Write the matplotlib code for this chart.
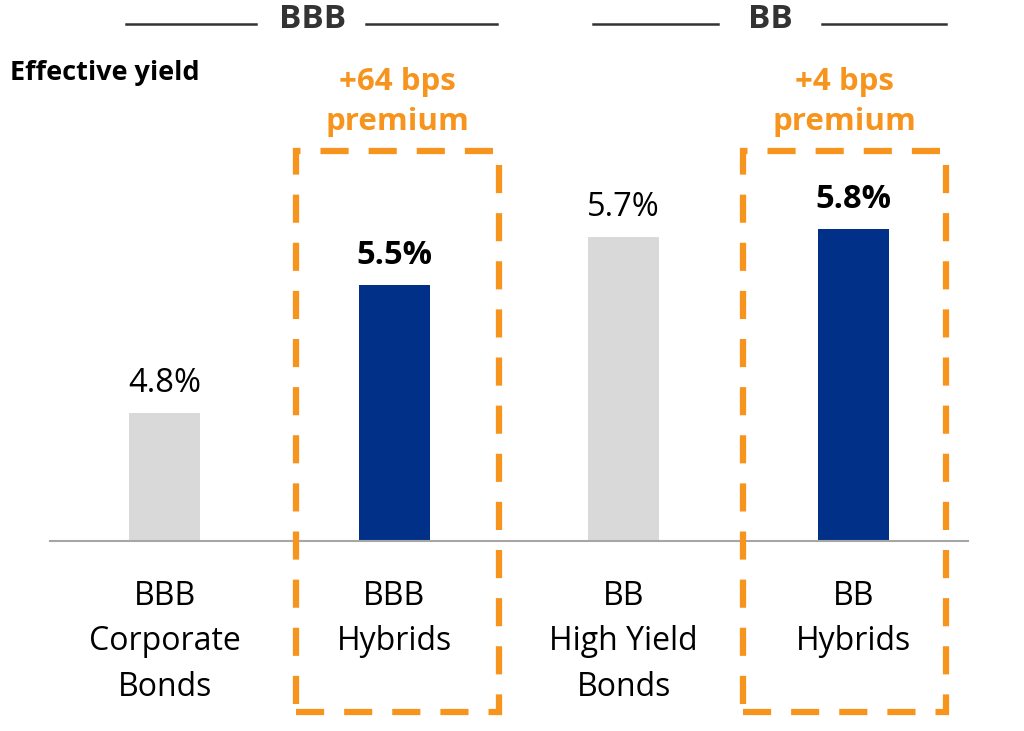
import matplotlib.pyplot as plt
from matplotlib.patches import Rectangle
from matplotlib.transforms import blended_transform_factory

plt.rcParams['font.family'] = ['Open Sans', 'DejaVu Sans']

categories = ["BBB\nCorporate\nBonds", "BBB\nHybrids", "BB\nHigh Yield\nBonds", "BB\nHybrids"]
yields = [4.84, 5.48, 5.72, 5.76]
value_labels = ["4.8%", "5.5%", "5.7%", "5.8%"]
is_hybrid = [False, True, False, True]
groups = ["BBB", "BB"]
group_centers = [0.642, 2.637]
group_lines = [[(-0.169, 0.398), (0.877, 1.448)], [(1.866, 2.411), (2.864, 3.404)]]
box_centers = [1.014, 2.960]
premiums = ["+64 bps\npremium", "+4 bps\npremium"]

GREY = "#D9D9D9"
NAVY = "#003087"
ORANGE = "#F7941D"
DARK = "#333333"

fig = plt.figure(figsize=(10.24, 7.31), dpi=100)
ax = fig.add_axes([50 / 1024, 1 - 541 / 731, 918 / 1024, 441 / 731])

x = list(range(len(categories)))
colors = [NAVY if h else GREY for h in is_hybrid]
ax.bar(x, yields, width=0.31, color=colors)
ax.set_xlim(-0.5, 3.5)
ax.set_ylim(4.2, 6.405)

for side in ["top", "right", "left"]:
    ax.spines[side].set_visible(False)
ax.spines["bottom"].set_color("#A6A6A6")
ax.spines["bottom"].set_linewidth(1.5)
ax.set_yticks([])
ax.set_xticks(x)
ax.set_xticklabels(categories, fontsize=23, linespacing=1.5, va="top")
ax.tick_params(axis="x", length=0, pad=28)

for xi, v, lab, h in zip(x, yields, value_labels, is_hybrid):
    ax.text(xi, v + 0.065, lab, ha="center", va="bottom", fontsize=23.5,
            fontweight="bold" if h else "normal", color="black")

trans = blended_transform_factory(ax.transData, fig.transFigure)

# dashed boxes around the hybrid bars, premium text above them
for bc, txt in zip(box_centers, premiums):
    box = Rectangle((bc - 0.4425, 1 - 712 / 731), 0.885, (712 - 151) / 731,
                    transform=trans, fill=False, edgecolor=ORANGE, linewidth=4.5,
                    linestyle=(0, (4.5, 3.2)), clip_on=False)
    fig.add_artist(box)
    ax.text(bc, 1 - 102 / 731, txt, transform=trans, ha="center", va="center",
            fontsize=22.5, fontweight="bold", color=ORANGE, linespacing=1.45)

# group headers
for gc, g, segs in zip(group_centers, groups, group_lines):
    ax.text(gc, 1 - 20 / 731, g, transform=trans, ha="center", va="center",
            fontsize=24, fontweight="bold", color=DARK)
    for a, b in segs:
        ax.plot([a, b], [1 - 24 / 731] * 2, transform=trans, color=DARK,
                linewidth=1.8, clip_on=False)

fig.text(10 / 1024, 1 - 73 / 731, "Effective yield", ha="left", va="center",
         fontsize=19.5, fontweight="bold", color="black")

fig.savefig("out.png", dpi=100)
